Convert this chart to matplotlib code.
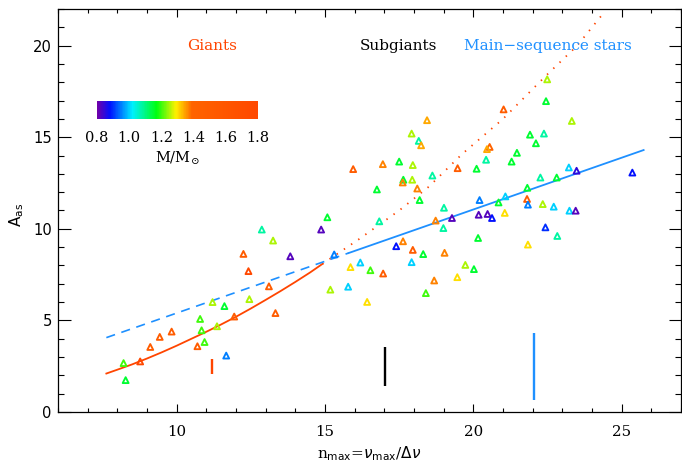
import numpy as np
import matplotlib
matplotlib.use('Agg')
import matplotlib.pyplot as plt
from matplotlib.colors import LinearSegmentedColormap, Normalize
from matplotlib.cm import ScalarMappable
from matplotlib.ticker import MultipleLocator

# звёзды: n_max, A_as, масса (M/Msun)
n_max = [15.08, 12.87, 14.87, 13.25, 12.25, 13.83, 15.31, 12.42, 13.11, 15.18,
         11.21, 11.61, 12.45, 13.33, 11.94, 10.79, 10.84, 11.36, 9.83, 9.43,
         9.11, 10.70, 10.94, 11.67, 8.21, 8.77, 8.28, 21.02, 18.44, 17.92,
         18.16, 18.24, 20.55, 20.46, 20.43, 15.95, 16.95, 17.50, 17.96, 19.47,
         20.11, 18.62, 17.64, 17.62, 17.94, 18.11, 16.75, 18.19, 16.83, 19.01,
         20.21, 20.85, 21.08, 18.73, 19.28, 20.18, 20.48, 20.63, 21.06, 18.99,
         20.16, 17.40, 17.63, 17.96, 18.31, 19.03, 17.92, 15.86, 16.19, 16.53,
         16.96, 19.73, 20.02, 18.68, 19.46, 15.78, 18.40, 16.42, 22.49, 22.45,
         23.32, 21.91, 22.38, 22.11, 21.47, 21.29, 23.22, 23.48, 25.36, 22.26,
         22.81, 21.82, 21.81, 21.84, 22.34, 22.71, 23.24, 23.45, 22.43, 22.83,
         21.84]
A_as = [10.63, 9.96, 9.96, 9.36, 8.63, 8.50, 8.60, 7.69, 6.86, 6.68,
        6.00, 5.78, 6.16, 5.40, 5.21, 5.08, 4.46, 4.68, 4.39, 4.10,
        3.55, 3.59, 3.82, 3.08, 2.67, 2.76, 1.74, 16.52, 15.93, 15.20,
        14.80, 14.56, 14.47, 14.35, 13.77, 13.26, 13.53, 13.67, 13.48, 13.31,
        13.28, 12.91, 12.68, 12.53, 12.68, 12.20, 12.15, 11.57, 10.41, 11.15,
        11.57, 11.44, 11.77, 10.45, 10.59, 10.77, 10.81, 10.59, 10.87, 10.04,
        9.50, 9.05, 9.32, 8.85, 8.62, 8.69, 8.18, 7.91, 8.16, 7.74,
        7.56, 8.03, 7.80, 7.18, 7.36, 6.84, 6.49, 6.01, 18.16, 16.97,
        15.89, 15.14, 15.20, 14.67, 14.15, 13.67, 13.35, 13.17, 13.07, 12.80,
        12.80, 12.24, 11.63, 11.32, 11.35, 11.21, 10.99, 10.99, 10.08, 9.61,
        9.14]
mass = [1.15, 1.08, 0.82, 1.25, 1.5, 0.82, 0.95, 1.8, 1.5, 1.25,
        1.25, 1.15, 1.25, 1.5, 1.5, 1.2, 1.2, 1.25, 1.5, 1.5,
        1.5, 1.5, 1.2, 0.95, 1.2, 1.8, 1.15, 1.5, 1.34, 1.25,
        1.08, 1.34, 1.4, 1.34, 1.08, 1.5, 1.37, 1.15, 1.25, 1.5,
        1.15, 1.08, 1.15, 1.37, 1.25, 1.37, 1.15, 1.15, 1.08, 1.08,
        0.95, 1.15, 1.0, 1.37, 0.82, 0.82, 0.82, 0.88, 1.3, 1.08,
        1.15, 0.88, 1.37, 1.5, 1.15, 1.37, 1.0, 1.3, 1.0, 1.2,
        1.5, 1.25, 1.15, 1.37, 1.3, 1.0, 1.2, 1.3, 1.25, 1.15,
        1.25, 1.15, 1.08, 1.15, 1.15, 1.15, 1.0, 0.85, 0.88, 1.08,
        1.15, 1.15, 1.5, 0.95, 1.25, 1.0, 1.0, 0.82, 0.9, 1.08,
        1.3]

# кривая для гигантов (сплошная) и её продолжение (точки)
giant_x = [7.63, 8.0, 8.5, 9.0, 9.5, 10.0, 10.5, 11.0, 11.5, 12.0,
           12.5, 13.0, 13.5, 14.0, 14.5, 14.91]
giant_y = [2.10, 2.31, 2.60, 2.92, 3.26, 3.62, 4.00, 4.38, 4.78, 5.20,
           5.65, 6.12, 6.60, 7.10, 7.62, 8.08]
giant_ext_x = [14.91, 16.15, 17.5, 18.5, 19.62, 21.0, 22.43, 23.5, 24.45]
giant_ext_y = [8.08, 9.44, 11.0, 12.3, 14.08, 16.0, 18.33, 20.0, 21.9]
# прямая для звёзд главной последовательности
ms_dash_x = [7.63, 15.8]
ms_dash_y = [4.06, 8.68]
ms_x = [15.8, 25.74]
ms_y = [8.68, 14.3]

# типичные погрешности
err_x = [11.19, 17.02, 22.03]
err_lo = [2.06, 1.41, 0.65]
err_hi = [2.92, 3.55, 4.31]

red = '#FF4500'
blue = '#1E90FF'

cmap = LinearSegmentedColormap.from_list('idl', [
    (0.0, '#7000A8'), (0.08, '#0010FF'), (0.22, '#00F0FF'), (0.37, '#00FF10'),
    (0.49, '#FFF000'), (0.59, '#FF6400'), (1.0, '#FF4800')])
norm = Normalize(0.8, 1.8)

fig = plt.figure(figsize=(6.82, 4.62), dpi=100)
ax = fig.add_axes([58 / 682, 50 / 462, 623 / 682, 403 / 462])

ax.plot(giant_x, giant_y, color=red, lw=1.3)
ax.plot(giant_ext_x, giant_ext_y, color=red, lw=1.3, linestyle=(0, (0.8, 4)))
ax.plot(ms_dash_x, ms_dash_y, color=blue, lw=1.2, dashes=(5.5, 4))
ax.plot(ms_x, ms_y, color=blue, lw=1.3)

ax.vlines(err_x, err_lo, err_hi, colors=[red, 'black', blue], lw=1.7)

ax.scatter(n_max, A_as, marker='^', s=18, facecolors='none',
           edgecolors=cmap(norm(np.array(mass))), linewidths=1.35, zorder=3)

ax.text(11.2, 20.0, 'Giants', color=red, ha='center', va='center',
        family='DejaVu Serif', fontsize=11)
ax.text(17.49, 20.0, 'Subgiants', color='black', ha='center', va='center',
        family='DejaVu Serif', fontsize=11)
ax.text(22.51, 20.0, 'Main\u2212sequence stars', color=blue, ha='center', va='center',
        family='DejaVu Serif', fontsize=11)

ax.set_xlim(6, 27)
ax.set_ylim(0, 22)
ax.xaxis.set_major_locator(MultipleLocator(5))
ax.xaxis.set_minor_locator(MultipleLocator(1))
ax.yaxis.set_major_locator(MultipleLocator(5))
ax.yaxis.set_minor_locator(MultipleLocator(1))
ax.tick_params(which='both', direction='in', top=True, right=True, width=0.8)
ax.tick_params(axis='x', which='major', length=5.8, pad=9, labelsize=10.8)
ax.tick_params(axis='x', which='minor', length=2.9)
ax.tick_params(axis='y', which='major', length=9, pad=4.5, labelsize=10.6)
ax.tick_params(axis='y', which='minor', length=4.3)
for lab in ax.get_xticklabels():
    lab.set_family('DejaVu Serif')
for s in ax.spines.values():
    s.set_linewidth(0.9)

plt.rcParams['mathtext.fontset'] = 'dejavuserif'
ax.set_xlabel(r'n$_{\rm max}$=$\nu_{\rm max}$/$\Delta\nu$', family='DejaVu Serif', fontsize=11)
ax.xaxis.set_label_coords(0.5, -0.08)
ax.set_ylabel(r'A$_{\mathsf{as}}$', fontsize=11)
ax.yaxis.set_label_coords(-0.052, 0.49)

# шкала масс
cax = fig.add_axes([97 / 682, (462 - 119) / 462, 161 / 682, 18 / 462])
cb = fig.colorbar(ScalarMappable(norm=norm, cmap=cmap), cax=cax, orientation='horizontal')
cb.outline.set_visible(False)
cb.set_ticks([0.8, 1.0, 1.2, 1.4, 1.6, 1.8])
cb.set_ticklabels(['0.8', '1.0', '1.2', '1.4', '1.6', '1.8'])
cax.tick_params(length=0, pad=9, labelsize=10.5)
for lab in cax.get_xticklabels():
    lab.set_family('DejaVu Serif')
cb.set_label(r'M/M$_{\odot}$', family='DejaVu Serif', fontsize=10.5, labelpad=3)

fig.savefig('out.png', dpi=100)
